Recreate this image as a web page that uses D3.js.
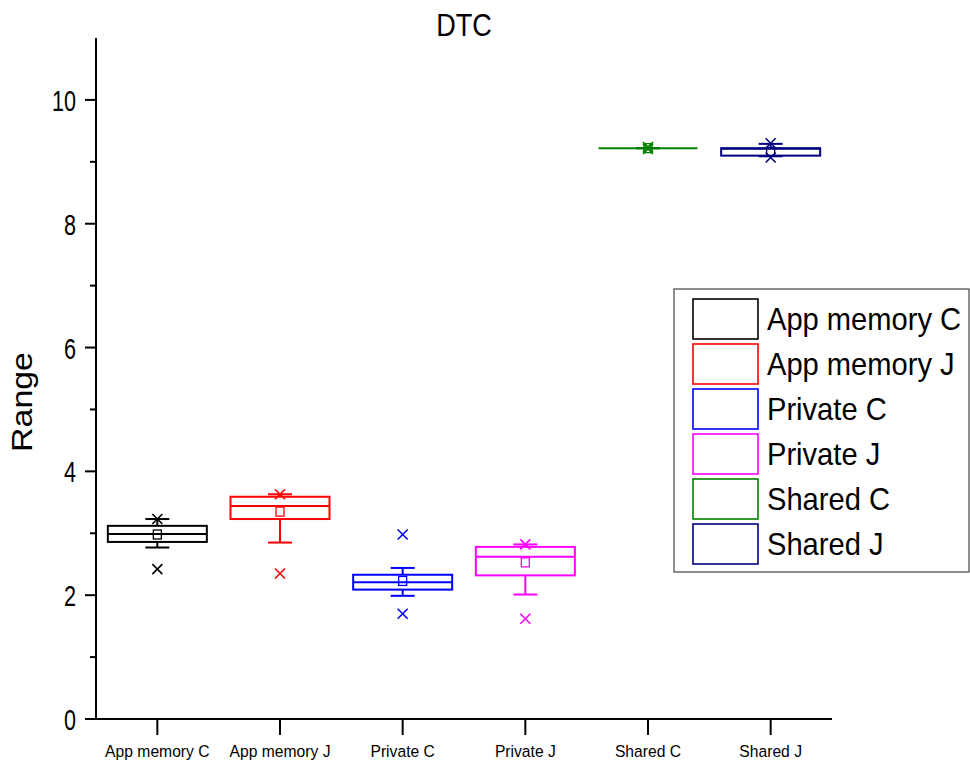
<!DOCTYPE html>
<html><head><meta charset="utf-8">
<script src="https://cdn.jsdelivr.net/npm/d3@7"></script>
<style>body{margin:0;background:#fff}svg{display:block}</style>
</head><body>
<svg id="c" width="970" height="766"></svg>
<script>
const categories = ["App memory C","App memory J","Private C","Private J","Shared C","Shared J"];
const colors = ["#000000","#ff0000","#0000ff","#ff00ff","#008000","#000080"];
const q1     = [2.86, 3.23, 2.09, 2.32, 9.22, 9.10];
const median = [2.99, 3.44, 2.21, 2.62, 9.22, 9.21];
const q3     = [3.12, 3.59, 2.33, 2.78, 9.22, 9.22];
const means  = [2.98, 3.35, 2.23, 2.53, 9.22, 9.16];
const whiskerLow  = [2.77, 2.85, 1.99, 2.01, 9.22, 9.09];
const whiskerHigh = [3.23, 3.63, 2.44, 2.82, 9.22, 9.29];
const outlierHigh = [3.23, 3.63, 2.98, 2.82, 9.24, 9.30];
const outlierLow  = [2.42, 2.35, 1.70, 1.62, 9.21, 9.07];
const yTicks = [0,2,4,6,8,10];
const yMinor = [1,3,5,7,9];
const title = "DTC", yLabel = "Range";

const svg = d3.select("#c");
const ff = "'Liberation Sans', Arial, sans-serif";
const y = d3.scaleLinear().domain([0,11]).range([719,38]);
const x = d3.scalePoint().domain(categories).range([96,832]).padding(0.5);

function txt(g, s, tx, ty, size, sx, anchor, rot, sy){
  return g.append("text").attr("transform",`translate(${tx},${ty}) ${rot?`rotate(${rot})`:""} scale(${sx},${sy||1})`)
    .attr("text-anchor",anchor).attr("font-family",ff).attr("font-size",size).attr("fill","#000").text(s);
}

// axes
const ax = svg.append("g").attr("stroke","#000").attr("stroke-width",2);
ax.append("line").attr("x1",96).attr("x2",96).attr("y1",y(11)).attr("y2",y(0)+1);
ax.append("line").attr("x1",85).attr("x2",832).attr("y1",y(0)).attr("y2",y(0));
yTicks.forEach(t=>{ax.append("line").attr("x1",85).attr("x2",96).attr("y1",y(t)).attr("y2",y(t));
  txt(svg,String(t),76,y(t)+11,30,0.72,"end");});
yMinor.forEach(t=>ax.append("line").attr("x1",90).attr("x2",96).attr("y1",y(t)).attr("y2",y(t)));
categories.forEach(c=>{ax.append("line").attr("x1",x(c)).attr("x2",x(c)).attr("y1",y(0)).attr("y2",y(0)+16);
  txt(svg,c,x(c),757,16.5,0.95,"middle");});

txt(svg,title,464,36,31.5,0.86,"middle");
txt(svg,yLabel,32,402,32,1.06,"middle",-90,0.9);

// boxes
const bw = 99, cap = 12, ms = 5;
categories.forEach((c,i)=>{
  const g = svg.append("g").attr("stroke",colors[i]).attr("stroke-width",2).attr("fill","none");
  const cx = x(c);
  g.append("line").attr("x1",cx).attr("x2",cx).attr("y1",y(q3[i])).attr("y2",y(whiskerHigh[i]));
  g.append("line").attr("x1",cx).attr("x2",cx).attr("y1",y(q1[i])).attr("y2",y(whiskerLow[i]));
  [whiskerLow[i],whiskerHigh[i]].forEach(v=>g.append("line").attr("x1",cx-cap).attr("x2",cx+cap).attr("y1",y(v)).attr("y2",y(v)));
  g.append("rect").attr("x",cx-bw/2).attr("width",bw).attr("y",y(q3[i])).attr("height",Math.max(0,y(q1[i])-y(q3[i])));
  g.append("line").attr("x1",cx-bw/2).attr("x2",cx+bw/2).attr("y1",y(median[i])).attr("y2",y(median[i]));
  g.append("rect").attr("x",cx-4).attr("width",8).attr("y",y(means[i])-4.5).attr("height",9).attr("stroke-width",1.3);
  [outlierHigh[i],outlierLow[i]].forEach(v=>{
    const yy=y(v);
    g.append("path").attr("d",`M${cx-ms},${yy-ms}L${cx+ms},${yy+ms}M${cx-ms},${yy+ms}L${cx+ms},${yy-ms}`).attr("stroke-width",1.6);
  });
});

// legend
const lg = svg.append("g");
lg.append("rect").attr("x",674).attr("y",289).attr("width",295).attr("height",283).attr("fill","#fff").attr("stroke","#444").attr("stroke-width",1.2);
categories.forEach((c,i)=>{
  const yy = 299 + i*45;
  lg.append("rect").attr("x",693).attr("y",yy).attr("width",65).attr("height",40).attr("fill","#fff").attr("stroke",colors[i]).attr("stroke-width",1.6);
  txt(lg,c,767,yy+31,32,0.91,"start");
});
</script>
</body></html>
